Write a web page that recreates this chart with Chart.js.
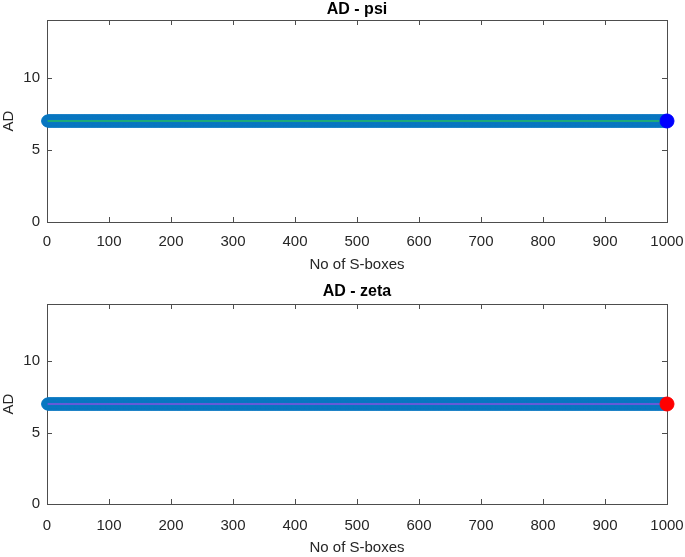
<!DOCTYPE html>
<html>
<head>
<meta charset="utf-8">
<script src="https://cdn.jsdelivr.net/npm/chart.js@4/dist/chart.umd.min.js"></script>
<style>
    html, body { margin: 0; padding: 0; background: #fff; }
    .wrap { position: absolute; left: 0; width: 685px; }
    canvas { display: block; }
</style>
</head>
<body>
<div class="wrap" style="top:0"><canvas id="chartPsi" width="685" height="280"></canvas></div>
<div class="wrap" style="top:280px"><canvas id="chartZeta" width="685" height="277"></canvas></div>
<script>
// ===== data (AD konstan = 7 untuk semua 1000 S-box)
const nSboxes = 1000;
const sboxNo = Array.from({ length: nSboxes }, (_, i) => i + 1);
const adPsi = sboxNo.map(() => 7);
const adZeta = sboxNo.map(() => 7);
const xTicks = [0, 100, 200, 300, 400, 500, 600, 700, 800, 900, 1000];
const yTicks = [0, 5, 10];

const TXT = "#262626";
const AXIS = "#4d4d4d";
const FONT = "'Liberation Sans', Arial, sans-serif";

// kotak ala MATLAB + tick ke dalam + judul
const matlabBox = {
    id: "matlabBox",
    beforeDatasetsDraw(chart) {
        const { ctx, chartArea: a, scales } = chart;
        ctx.save();
        ctx.strokeStyle = AXIS;
        ctx.lineWidth = 1;
        ctx.strokeRect(Math.round(a.left) + 0.5, Math.round(a.top) + 0.5,
            Math.round(a.right - a.left), Math.round(a.bottom - a.top));
        const tl = 5;
        ctx.beginPath();
        xTicks.forEach((v) => {
            const x = Math.round(scales.x.getPixelForValue(v)) + 0.5;
            ctx.moveTo(x, a.bottom); ctx.lineTo(x, a.bottom - tl);
            ctx.moveTo(x, a.top); ctx.lineTo(x, a.top + tl);
        });
        yTicks.forEach((v) => {
            const y = Math.round(scales.y.getPixelForValue(v)) + 0.5;
            ctx.moveTo(a.left, y); ctx.lineTo(a.left + tl, y);
            ctx.moveTo(a.right, y); ctx.lineTo(a.right - tl, y);
        });
        ctx.stroke();
        ctx.restore();
    },
    afterDraw(chart, args, opts) {
        const { ctx, chartArea: a } = chart;
        ctx.save();
        ctx.fillStyle = "#000";
        ctx.font = "bold 16px " + FONT;
        ctx.textAlign = "center";
        ctx.textBaseline = "middle";
        ctx.fillText(opts.text, (a.left + a.right) / 2, a.top - opts.gap);
        ctx.restore();
    },
};

function makeChart(el, values, lineColor, endColor, title, topPad, gap, xHeight, xTickPad, xTitlePad) {
    const pts = sboxNo.map((x, i) => ({ x, y: values[i] }));
    const last = [{ x: sboxNo[nSboxes - 1], y: values[nSboxes - 1] }];
    return new Chart(el, {
        type: "line",
        data: {
            datasets: [
                {
                    data: pts,
                    showLine: false,
                    clip: false,
                    pointRadius: 6,
                    pointBackgroundColor: "#0072BD",
                    pointBorderColor: "#0a78c2",
                    pointBorderWidth: 1,
                    order: 3,
                },
                {
                    data: pts,
                    clip: false,
                    borderColor: lineColor,
                    borderWidth: 1.2,
                    pointRadius: 0,
                    order: 2,
                },
                {
                    data: last,
                    showLine: false,
                    clip: false,
                    pointRadius: 7,
                    pointBackgroundColor: endColor,
                    pointBorderColor: endColor,
                    order: 1,
                },
            ],
        },
        options: {
            responsive: false,
            animation: false,
            devicePixelRatio: 1,
            parsing: false,
            normalized: true,
            layout: { padding: { top: topPad, right: 18, left: 0, bottom: 0 } },
            plugins: {
                legend: { display: false },
                tooltip: { enabled: false },
                matlabBox: { text: title, gap },
            },
            scales: {
                x: {
                    type: "linear",
                    min: 0,
                    max: 1000,
                    grid: { display: false, drawTicks: false },
                    border: { display: false },
                    afterBuildTicks: (s) => { s.ticks = xTicks.map((v) => ({ value: v })); },
                    afterFit: (s) => {
                        s.height = xHeight;
                        s.paddingLeft = 0;
                        s.paddingRight = 0;
                    },
                    ticks: {
                        color: TXT, font: { family: FONT, size: 15 }, padding: xTickPad,
                        maxRotation: 0, autoSkip: false, callback: (v) => String(v),
                    },
                    title: { display: true, text: "No of S-boxes", color: TXT, font: { family: FONT, size: 15 }, padding: { top: 2, bottom: xTitlePad } },
                },
                y: {
                    min: 0,
                    max: 14,
                    grid: { display: false, drawTicks: false },
                    border: { display: false },
                    afterBuildTicks: (s) => { s.ticks = yTicks.map((v) => ({ value: v })); },
                    afterFit: (s) => { s.width = 47; },
                    ticks: { color: TXT, font: { family: FONT, size: 15 }, padding: 7 },
                    title: { display: true, text: "AD", color: TXT, font: { family: FONT, size: 15 }, padding: { top: 0, bottom: 4 } },
                },
            },
        },
        plugins: [matlabBox],
    });
}

makeChart(document.getElementById("chartPsi"), adPsi, "#33dd33", "#0000ff", "AD - psi", 20, 10, 58, 11, 6);
makeChart(document.getElementById("chartZeta"), adZeta, "#c040f0", "#ff0000", "AD - zeta", 24, 12, 53, 13, 0);
</script>
</body>
</html>
